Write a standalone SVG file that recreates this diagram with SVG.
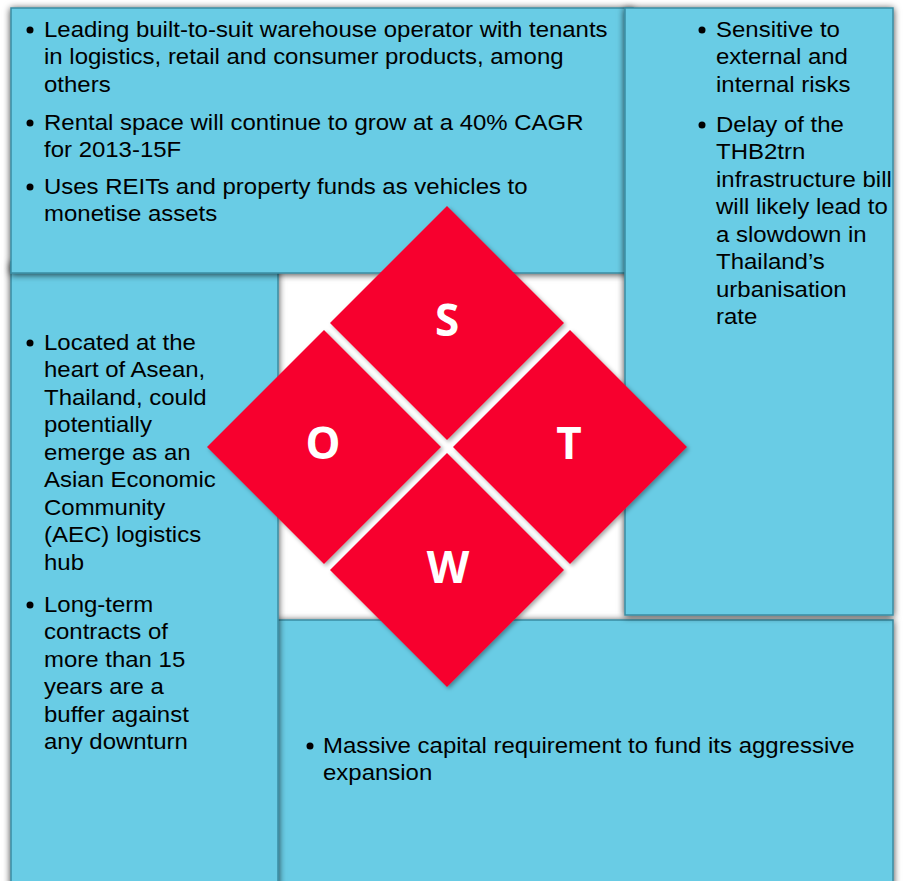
<svg xmlns="http://www.w3.org/2000/svg" width="904" height="881" viewBox="0 0 904 881">
<defs>
<filter id="ps" x="-10%" y="-10%" width="120%" height="120%">
<feDropShadow dx="0" dy="1" stdDeviation="3.5" flood-color="#000" flood-opacity="0.75"/>
</filter>
<filter id="ds" x="-10%" y="-10%" width="120%" height="120%">
<feDropShadow dx="2" dy="2" stdDeviation="2" flood-color="#000" flood-opacity="0.35"/>
</filter>
<style>
.panel{fill:#69CCE5;stroke:#3A8CA2;stroke-width:1.5}
.t{font-family:"Liberation Sans",Arial,sans-serif;font-size:22px;fill:#000}
.dia{fill:#F7002D}
.L{font-family:"Open Sans","DejaVu Sans",sans-serif;font-weight:bold;font-size:44px;fill:#fff;text-anchor:middle}
.b{fill:#000}
</style>
</defs>
<rect x="0" y="0" width="904" height="881" fill="#fff"/>
<rect x="276" y="268" width="352" height="356" fill="#fff"/>

<g id="panel-w">
<rect class="panel" x="276" y="620" width="617" height="270" filter="url(#ps)"/>
<circle class="b" cx="310" cy="746" r="3.5"/>
<text class="t" transform="translate(323 0) scale(1.09 1)"><tspan x="0" y="753">Massive capital requirement to fund its aggressive</tspan><tspan x="0" y="780">expansion</tspan></text>
</g>

<g id="panel-o">
<rect class="panel" x="11" y="262" width="267" height="630" filter="url(#ps)"/>
<circle class="b" cx="30" cy="343" r="3.5"/>
<circle class="b" cx="30" cy="605" r="3.5"/>
<text class="t" transform="translate(44 0) scale(1.09 1)"><tspan x="0" y="350">Located at the</tspan><tspan x="0" y="377.5">heart of Asean,</tspan><tspan x="0" y="405">Thailand, could</tspan><tspan x="0" y="432.5">potentially</tspan><tspan x="0" y="460">emerge as an</tspan><tspan x="0" y="487.5">Asian Economic</tspan><tspan x="0" y="515">Community</tspan><tspan x="0" y="542.5">(AEC) logistics</tspan><tspan x="0" y="570">hub</tspan><tspan x="0" y="612">Long-term</tspan><tspan x="0" y="639.5">contracts of</tspan><tspan x="0" y="667">more than 15</tspan><tspan x="0" y="694.5">years are a</tspan><tspan x="0" y="722">buffer against</tspan><tspan x="0" y="749.5">any downturn</tspan></text>
</g>

<g id="panel-s">
<rect class="panel" x="11" y="8" width="622" height="265" filter="url(#ps)"/>
<circle class="b" cx="30" cy="30" r="3.5"/>
<circle class="b" cx="30" cy="123" r="3.5"/>
<circle class="b" cx="30" cy="187" r="3.5"/>
<text class="t" transform="translate(44 0) scale(1.09 1)"><tspan x="0" y="37">Leading built-to-suit warehouse operator with tenants</tspan><tspan x="0" y="64.5">in logistics, retail and consumer products, among</tspan><tspan x="0" y="92">others</tspan><tspan x="0" y="130">Rental space will continue to grow at a 40% CAGR</tspan><tspan x="0" y="157.5">for 2013-15F</tspan><tspan x="0" y="194">Uses REITs and property funds as vehicles to</tspan><tspan x="0" y="221.5">monetise assets</tspan></text>
</g>

<g id="panel-t">
<rect class="panel" x="625" y="8" width="268" height="607" filter="url(#ps)"/>
<circle class="b" cx="702" cy="30" r="3.5"/>
<circle class="b" cx="702" cy="125" r="3.5"/>
<text class="t" transform="translate(716 0) scale(1.09 1)"><tspan x="0" y="37">Sensitive to</tspan><tspan x="0" y="64.5">external and</tspan><tspan x="0" y="92">internal risks</tspan><tspan x="0" y="132">Delay of the</tspan><tspan x="0" y="159.5">THB2trn</tspan><tspan x="0" y="187">infrastructure bill</tspan><tspan x="0" y="214.5">will likely lead to</tspan><tspan x="0" y="242">a slowdown in</tspan><tspan x="0" y="269.5">Thailand’s</tspan><tspan x="0" y="297">urbanisation</tspan><tspan x="0" y="324.5">rate</tspan></text>
</g>

<g id="diamond-s">
<polygon class="dia" points="447,206 564,323 447,440 330,323" filter="url(#ds)"/>
<text class="L" x="447" y="336">S</text>
</g>
<g id="diamond-o">
<polygon class="dia" points="324,330 441,447 324,564 207,447" filter="url(#ds)"/>
<text class="L" x="323" y="459">O</text>
</g>
<g id="diamond-t">
<polygon class="dia" points="570,330 687,447 570,564 453,447" filter="url(#ds)"/>
<text class="L" x="569" y="459">T</text>
</g>
<g id="diamond-w">
<polygon class="dia" points="447,453 564,570 447,687 330,570" filter="url(#ds)"/>
<text class="L" x="448" y="583">W</text>
</g>
<g id="connectors"/>
</svg>
